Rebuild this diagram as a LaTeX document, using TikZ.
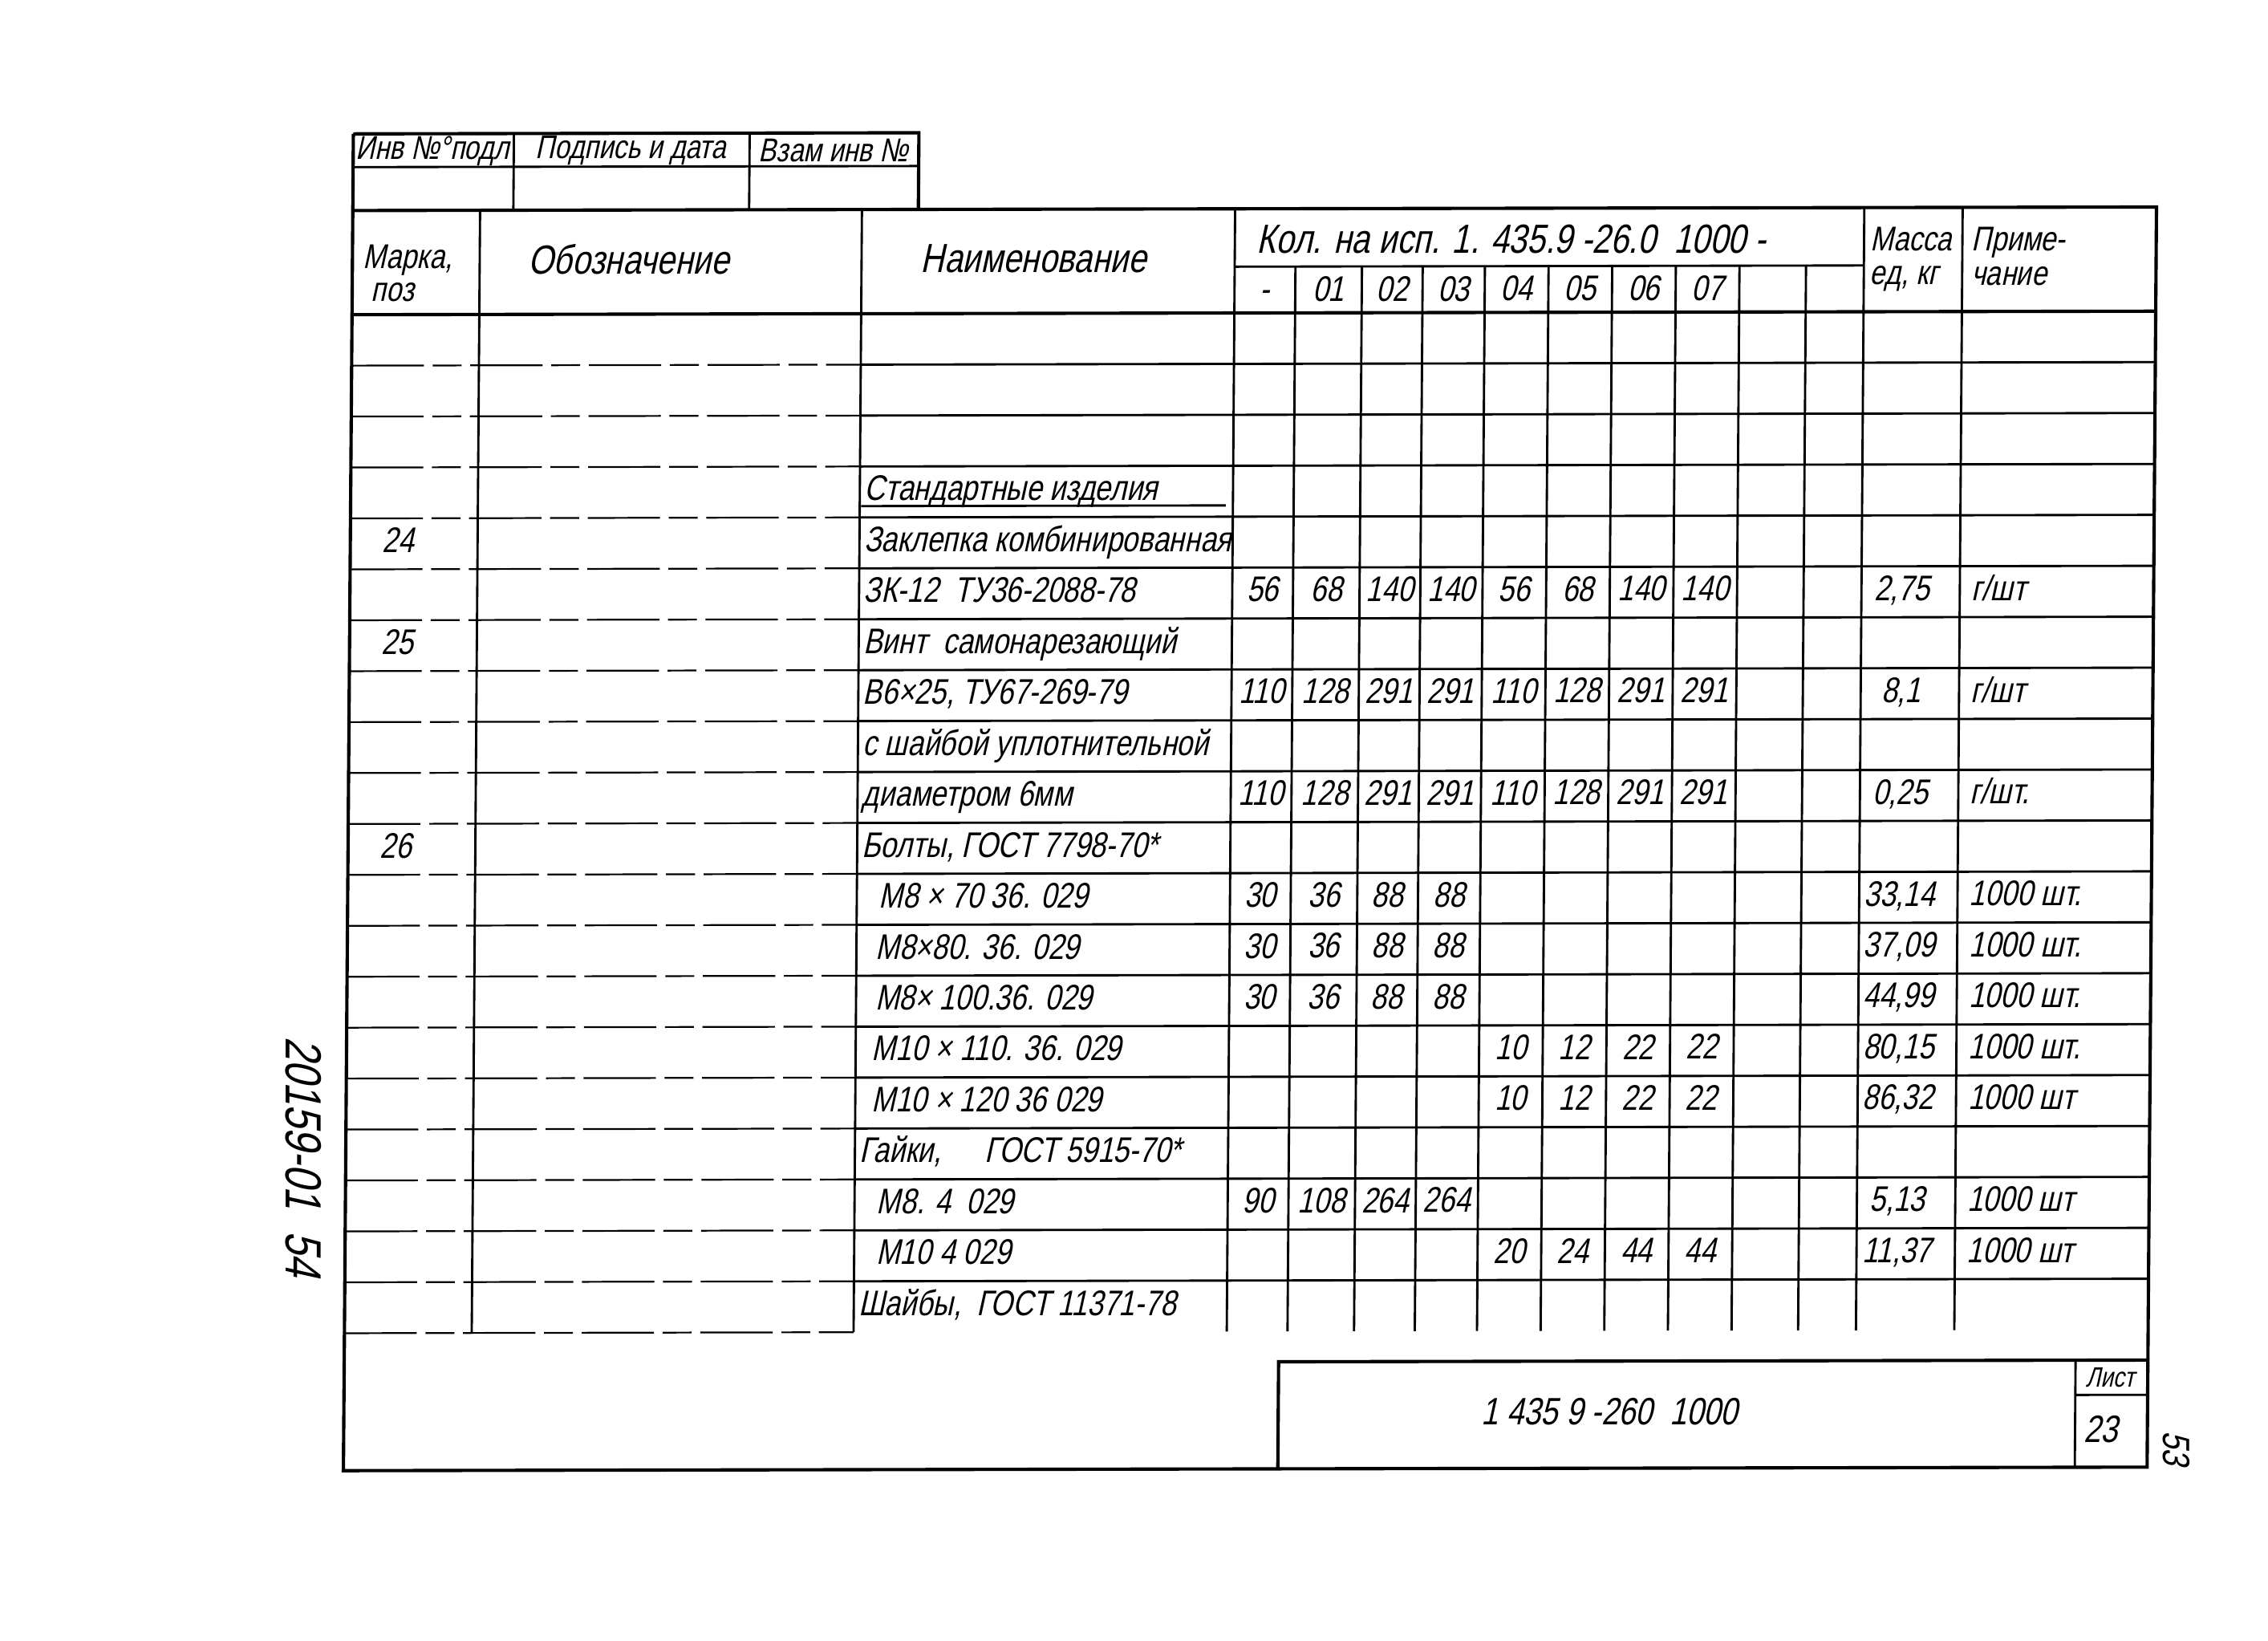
\documentclass[tikz,border=0pt]{standalone}
\usepackage{fontspec}
\setmainfont{Liberation Sans}[FakeSlant=0.22,FakeStretch=0.8]
\usetikzlibrary{calc}

% column bounds of the quantity block
\def\qcols{{855,897,943,985,1028,1072,1116,1160,1204,1250,1290}}

\begin{document}
\begin{tikzpicture}[%
    x={(0.2mm,0.0004mm)},       % the scan is a little skewed
    y={(-0.0015mm,-0.2mm)},     % rows run downwards
    ]
% -------------------------------------------------
% Line and text styles
\tikzset{
  frm/.style={line width=1.3pt},
  gridln/.style={line width=0.9pt},
  brk/.style={line width=0.7pt, dash pattern=on 10mm off 1.2mm on 4mm off 1.2mm},
  txt/.style={inner sep=0pt, font=\fontsize{14}{16}\selectfont},
  lbl/.style={txt, anchor=base west},
  num/.style={txt, anchor=base},
  hdr/.style={txt, font=\fontsize{16}{18}\selectfont},
  small/.style={txt, anchor=base west, font=\fontsize{13.5}{15}\selectfont},
  stamp/.style={txt, font=\fontsize{13}{15}\selectfont}
}
\useasboundingbox (0mm,0mm) rectangle (313.6mm,-226.8mm);

% -------------------------------------------------
% Stamp in the upper left corner
\draw[frm] (245,93) -- (636,93) -- (636,146);
\draw[gridln] (245,116) -- (636,116);
\draw[gridln] (356,93) -- (356,146) (519,93) -- (519,146);
\node[stamp] (stamp-inv)  at (300,105) {Инв №°подл};
\node[stamp] (stamp-sign) at (437,105) {Подпись и дата};
\node[stamp] (stamp-repl) at (577,105) {Взам инв №};

% -------------------------------------------------
% Outer frame and header
\draw[frm] (245,93) -- (245,1017) -- (1492,1017) -- (1492,146) -- (245,146);
\draw[frm] (245,218) -- (1492,218);
\draw[gridln] (855,186) -- (1290,186);
\foreach \x in {333,597,855,1290,1358}
  \draw[gridln] (\x,146) -- (\x,922);
\foreach \x in {897,943,985,1028,1072,1116,1160,1204,1250}
  \draw[gridln] (\x,186) -- (\x,922);

\node[small] (hdr-mark) at (252,186) {Марка,};
\node[small] (hdr-pos)  at (258,209) {поз};
\node[hdr] (hdr-desig) at (436,180) {Обозначение};
\node[hdr] (hdr-name)  at (716,180) {Наименование};
\node[hdr, anchor=west] (hdr-qty) at (870,167) {Кол. на исп. 1. 435.9 -26.0 \ 1000 -};
\foreach \l [count=\k] in {-,01,02,03,04,05,06,07} {
  \pgfmathsetmacro\xq{0.5*(\qcols[\k-1]+\qcols[\k])}
  \node[num] (sub-\k) at (\xq,210) {\l};
}
\node[small] (hdr-mass) at (1294,176) {Масса};
\node[small] (hdr-unit) at (1294,199) {ед, кг};
\node[small] (hdr-note) at (1364,176) {Приме-};
\node[small] (hdr-nt2)  at (1364,200) {чание};

% -------------------------------------------------
% Row rules: broken in the left columns, solid to the right
\foreach \r in {1,...,19} {
  \pgfmathsetmacro\yr{218+35.2*\r}
  \draw[brk] (245,\yr) -- (597,\yr);
  \draw[gridln] (597,\yr) -- (1492,\yr);
}
\draw[brk] (245,922) -- (597,922);

% -------------------------------------------------
% Marks and names
\foreach \r/\m in {5/24,7/25,11/26} {
  \pgfmathsetmacro\yq{218+35.2*(\r-0.5)+6}
  \node[num] (mk-\r) at (278,\yq) {\m};
}
\foreach \r/\d/\t in {4/0/{Стандартные изделия},
    5/0/{Заклепка комбинированная}, 6/0/{ЗК-12 \ ТУ36-2088-78},
    7/0/{Винт \ самонарезающий}, 8/0/{В6×25, ТУ67-269-79},
    9/0/{с шайбой уплотнительной}, 10/0/{диаметром 6мм},
    11/0/{Болты, ГОСТ 7798-70*}, 12/12/{М8 × 70 36. 029},
    13/10/{М8×80. 36. 029}, 14/10/{М8× 100.36. 029},
    15/8/{М10 × 110. 36. 029}, 16/8/{М10 × 120 36 029},
    17/0/{Гайки, \quad ГОСТ 5915-70*}, 18/12/{М8. 4 \ 029},
    19/12/{М10 4 029}, 20/0/{Шайбы, \ ГОСТ 11371-78}} {
  \pgfmathsetmacro\yq{218+35.2*(\r-0.5)+6}
  \node[lbl] (nm-\r) at (600+\d,\yq) {\t};
}
\draw[gridln] (598,351) -- (850,351);

% -------------------------------------------------
% Quantities per version
\foreach \r/\c/\vals in {6/1/{56,68,140,140,56,68,140,140},
    8/1/{110,128,291,291,110,128,291,291},
    10/1/{110,128,291,291,110,128,291,291},
    12/1/{30,36,88,88}, 13/1/{30,36,88,88}, 14/1/{30,36,88,88},
    15/5/{10,12,22,22}, 16/5/{10,12,22,22},
    18/1/{90,108,264,264}, 19/5/{20,24,44,44}}
  \foreach \v [count=\k] in \vals {
    \pgfmathtruncatemacro\col{\c+\k-1}
    \pgfmathsetmacro\xq{0.5*(\qcols[\col-1]+\qcols[\col])}
    \pgfmathsetmacro\yq{218+35.2*(\r-0.5)+6}
    \node[num] (q-\r-\col) at (\xq,\yq) {\v};
  }

% -------------------------------------------------
% Unit mass and notes
\foreach \r/\m/\n in {6/{2,75}/{г/шт}, 8/{8,1}/{г/шт}, 10/{0,25}/{г/шт.},
    12/{33,14}/{1000 шт.}, 13/{37,09}/{1000 шт.}, 14/{44,99}/{1000 шт.},
    15/{80,15}/{1000 шт.}, 16/{86,32}/{1000 шт}, 18/{5,13}/{1000 шт},
    19/{11,37}/{1000 шт}} {
  \pgfmathsetmacro\yq{218+35.2*(\r-0.5)+6}
  \node[num] (ms-\r) at (1318,\yq) {\m};
  \node[lbl] (nt-\r) at (1366,\yq) {\n};
}

% -------------------------------------------------
% Title block
\draw[frm] (891,1017) -- (891,943) -- (1492,943);
\draw[gridln] (1442,943) -- (1442,1017) (1442,967) -- (1492,967);
\node[txt, font=\fontsize{15}{17}\selectfont] (doc-no) at (1120,978) {1 435 9 -260 \ 1000};
\node[txt, font=\fontsize{11}{13}\selectfont] (sheet-lbl) at (1466,955) {Лист};
\node[txt, font=\fontsize{15}{17}\selectfont] (sheet-no) at (1460,991) {23};

% -------------------------------------------------
% Archive marks on the margins
\node[txt, rotate=-90, font=\fontsize{20}{22}\selectfont] (arch-no) at (216,800) {20159-01 \ 54};
\node[txt, rotate=-90, font=\fontsize{15}{17}\selectfont] (page-no) at (1512,1004) {53};
\end{tikzpicture}
\end{document}
